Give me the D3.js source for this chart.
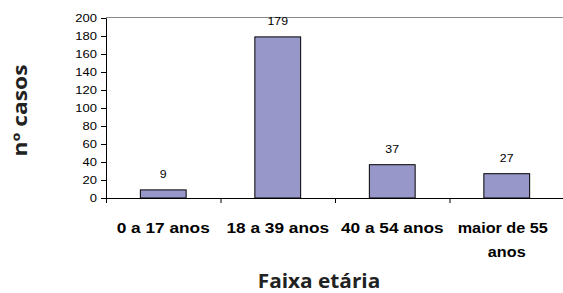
<!DOCTYPE html>
<html>
<head>
<meta charset="utf-8">
<script src="https://cdn.jsdelivr.net/npm/d3@7"></script>
<style>
  html, body { margin: 0; padding: 0; background: #fff; }
  svg { display: block; }
</style>
</head>
<body>
<div id="chart"></div>
<script>
const categories = ["0 a 17 anos", "18 a 39 anos", "40 a 54 anos", "maior de 55 anos"];
const casos = [9, 179, 37, 27];
const yTicks = [0, 20, 40, 60, 80, 100, 120, 140, 160, 180, 200];

const width = 563, height = 293;
const plotLeft = 106, plotRight = 564, plotTop = 18, plotBottom = 198;

const svg = d3.select("#chart").append("svg")
    .attr("width", width)
    .attr("height", height);

// the original picture is stretched sideways, so widen text a bit
function stretch(sel, k) {
    sel.each(function() {
        const len = this.getComputedTextLength();
        d3.select(this)
            .attr("textLength", len * k)
            .attr("lengthAdjust", "spacingAndGlyphs");
    });
}

const x = d3.scaleBand()
    .domain(categories)
    .range([plotLeft, plotRight])
    .paddingInner(0.6)
    .paddingOuter(0.3);

// band edges for category ticks
const xb = d3.scaleBand().domain(categories).range([plotLeft, plotRight]);

const y = d3.scaleLinear().domain([0, 200]).range([plotBottom, plotTop]);

// top border of plot area
svg.append("line")
    .attr("x1", plotLeft).attr("x2", width)
    .attr("y1", y(200) - 0.5).attr("y2", y(200) - 0.5)
    .attr("stroke", "#8a8a8a")
    .attr("stroke-width", 1.2);

// y axis
const yAxis = svg.append("g")
    .attr("transform", `translate(${plotLeft},0)`)
    .call(d3.axisLeft(y).tickValues(yTicks).tickSize(5).tickPadding(4));
yAxis.select(".domain").attr("stroke", "#000");
yAxis.selectAll("text")
    .attr("font-family", "Liberation Sans, Arial, sans-serif")
    .attr("font-size", 11)
    .attr("fill", "#000")
    .call(stretch, 1.18);

// bars
svg.append("g")
    .selectAll("rect")
    .data(casos)
    .join("rect")
    .attr("x", (d, i) => x(categories[i]))
    .attr("y", d => y(d))
    .attr("width", x.bandwidth())
    .attr("height", d => y(0) - y(d))
    .attr("fill", "#9797ca")
    .attr("stroke", "#000")
    .attr("stroke-width", 1);

// value labels
svg.append("g")
    .selectAll("text")
    .data(casos)
    .join("text")
    .attr("x", (d, i) => x(categories[i]) + x.bandwidth() / 2)
    .attr("y", d => y(d) - 11.5)
    .attr("text-anchor", "middle")
    .attr("font-family", "Liberation Sans, Arial, sans-serif")
    .attr("font-size", 11)
    .text(d => d)
    .call(stretch, 1.12);

// x axis
svg.append("line")
    .attr("x1", plotLeft).attr("x2", width)
    .attr("y1", plotBottom + 0.5).attr("y2", plotBottom + 0.5)
    .attr("stroke", "#000");
svg.append("g")
    .selectAll("line")
    .data(categories)
    .join("line")
    .attr("x1", d => xb(d) + 0.5).attr("x2", d => xb(d) + 0.5)
    .attr("y1", plotBottom).attr("y2", plotBottom + 5)
    .attr("stroke", "#000");

// category labels (wrap last one)
const catLines = [["0 a 17 anos"], ["18 a 39 anos"], ["40 a 54 anos"], ["maior de 55", "anos"]];
categories.forEach((c, i) => {
    catLines[i].forEach((t, j) => {
        svg.append("text")
            .attr("x", x(c) + x.bandwidth() / 2 + (i === 3 && j === 0 ? -4 : 0))
            .attr("y", 233 + j * 24)
            .attr("text-anchor", "middle")
            .attr("font-family", "Liberation Sans, Arial, sans-serif")
            .attr("font-weight", "bold")
            .attr("font-size", 15)
            .text(t)
            .call(stretch, i === 3 ? 1.08 : 1.15);
    });
});

// axis titles
svg.append("text")
    .attr("x", 319)
    .attr("y", 288)
    .attr("text-anchor", "middle")
    .attr("font-family", "Open Sans, sans-serif")
    .attr("font-weight", "bold")
    .attr("font-size", 20)
    .attr("fill", "#222")
    .text("Faixa etária")
    .call(stretch, 1.04);

svg.append("text")
    .attr("transform", "translate(27,110.5) rotate(-90)")
    .attr("text-anchor", "middle")
    .attr("font-family", "Open Sans, sans-serif")
    .attr("font-weight", "bold")
    .attr("font-size", 19)
    .attr("fill", "#222")
    .text("nº casos")
    .call(stretch, 1.2);
</script>
</body>
</html>
